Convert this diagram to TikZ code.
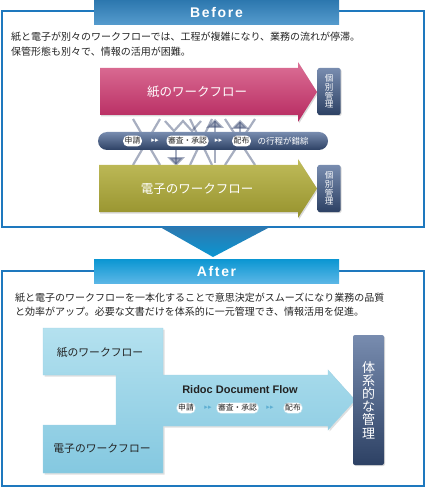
\documentclass[tikz,border=0pt]{standalone}
\usepackage{fontspec}
\setmainfont{Liberation Sans}
\newfontfamily\jp{Noto Sans CJK JP}
\newfontfamily\headfont[LetterSpace=12]{Liberation Sans}
\newfontfamily\symfont{DejaVu Sans}
\usetikzlibrary{arrows}
\usetikzlibrary{shadows}

\definecolor{frameblue}{RGB}{30,120,190}
\definecolor{tabtop}{RGB}{45,120,175}
\definecolor{tabbot}{RGB}{85,155,205}
\definecolor{aftertop}{RGB}{10,150,210}
\definecolor{afterbot}{RGB}{90,182,230}
\definecolor{pinktop}{RGB}{220,112,150}
\definecolor{pinkbot}{RGB}{182,40,95}
\definecolor{olivetop}{RGB}{192,188,90}
\definecolor{olivebot}{RGB}{150,146,45}
\definecolor{slatetop}{RGB}{120,140,175}
\definecolor{slatebot}{RGB}{45,65,100}
\definecolor{skytop}{RGB}{180,225,239}
\definecolor{skybot}{RGB}{132,200,224}
\definecolor{tangle}{RGB}{60,75,115}
\definecolor{inktext}{RGB}{35,35,35}
\definecolor{tipblue}{RGB}{95,175,210}

\begin{document}
\begin{tikzpicture}[x=1bp,y=-1bp,
    frame/.style={draw=frameblue,line width=1.2bp},
    tab/.style={minimum width=245bp,minimum height=24bp,inner sep=0,text=white,
      font=\headfont\bfseries\fontsize{14bp}{14bp}\selectfont},
    flowtext/.style={text=white,font=\jp\fontsize{12.5bp}{13bp}\selectfont},
    vbox/.style={top color=slatetop,bottom color=slatebot,rounded corners=2bp,inner sep=0,
      align=center,text=white,drop shadow={opacity=.3,shadow xshift=1bp,shadow yshift=-1bp}},
    pill/.style={fill=white,rounded corners=4.5bp,inner xsep=1.5bp,inner ysep=1.8bp,text=inktext,
      font=\jp\fontsize{7.8bp}{8bp}\selectfont},
    next/.style={font=\symfont\fontsize{7bp}{7bp}\selectfont,inner sep=0},
    tangle/.style={draw=tangle,opacity=.45,line width=2.2bp},
    para/.style={anchor=west,align=left,inner sep=0,text=inktext}]
    \path[use as bounding box] (0,0) rectangle (426,490);
    % Before panel.
    \draw[frame] (2,11) rectangle (424,227);
    \node[tab,top color=tabtop,bottom color=tabbot] (before) at (216.5,12.5) {Before};
    \node[para,font=\jp\fontsize{10bp}{15bp}\selectfont] (beforetext) at (11,44.5)
      {紙と電子が別々のワークフローでは、工程が複雑になり、業務の流れが停滞。\\保管形態も別々で、情報の活用が困難。};
    % Tangled steps.
    \foreach \a/\b in {133/160,160/133,225/255,255/225,190/212,212/190}
    \draw[tangle] (\a,119) -- (\b,165);
    \draw[tangle] (165,121) -- (174,131) -- (183,121) -- (192,131) -- (201,121);
    \draw[tangle,-triangle 90] (215,163) -- (215,119);
    \draw[tangle,-triangle 90] (176,150) -- (176,166);
    \draw[tangle,-triangle 90] (240,150) -- (240,120);
    % Paper flow.
    \path[top color=pinktop,bottom color=pinkbot,drop shadow={opacity=.3,shadow xshift=1bp,shadow yshift=-1.5bp}]
      (100,68) -- (298,68) -- (298,62) -- (317,92) -- (298,122) -- (298,115) -- (100,115) -- cycle;
    \node[flowtext] (paper) at (197,91.5) {紙のワークフロー};
    \node[vbox,minimum width=23bp,minimum height=47bp,font=\jp\fontsize{8.5bp}{8.6bp}\selectfont]
      (paperbox) at (329,91.5) {個\\別\\管\\理};
    % Steps bar.
    \path[top color=slatetop,bottom color=slatebot,rounded corners=9bp] (98,132) rectangle (328,150);
    \node[pill] (apply) at (132.5,141) {申請};
    \node[next,text=white] (next1) at (155,141) {▸▸};
    \node[pill] (review) at (187.5,141) {審査・承認};
    \node[next,text=white] (next2) at (218.5,141) {▸▸};
    \node[pill] (deliver) at (241.5,141) {配布};
    \node[text=white,font=\jp\fontsize{8.5bp}{9bp}\selectfont] (mess) at (283,141) {の行程が錯綜};
    % Digital flow.
    \path[top color=olivetop,bottom color=olivebot,drop shadow={opacity=.3,shadow xshift=1bp,shadow yshift=-1.5bp}]
      (99,165) -- (298,165) -- (298,159) -- (317,188.5) -- (298,218) -- (298,212) -- (99,212) -- cycle;
    \node[flowtext] (digital) at (197,188.5) {電子のワークフロー};
    \node[vbox,minimum width=23bp,minimum height=47bp,font=\jp\fontsize{8.5bp}{8.6bp}\selectfont]
      (digitalbox) at (329,188.5) {個\\別\\管\\理};
    % Down arrow.
    \path[top color=tabtop,bottom color=aftertop] (160,227) -- (270,227) -- (213,257) -- cycle;
    % After panel.
    \draw[frame] (2,271) rectangle (424,486);
    \node[tab,top color=aftertop,bottom color=afterbot] (after) at (216.5,271) {After};
    \node[para,font=\jp\fontsize{10bp}{14bp}\selectfont] (aftertext) at (15,305)
      {紙と電子のワークフローを一本化することで意思決定がスムーズになり業務の品質\\と効率がアップ。必要な文書だけを体系的に一元管理でき、情報活用を促進。};
    % Merged flow.
    \path[top color=skytop,bottom color=skybot,draw=skybot!80!white,
      drop shadow={opacity=.25,shadow xshift=1.5bp,shadow yshift=-1.5bp}]
      (43,328) -- (163,328) -- (163,375) -- (328,375) -- (328,370) -- (355,400) -- (328,430)
      -- (328,426) -- (163,426) -- (163,473) -- (43,473) -- (43,425) -- (116,425) -- (116,375)
      -- (43,375) -- cycle;
    \node[text=inktext,font=\jp\fontsize{10.8bp}{11bp}\selectfont] (paper2) at (100,352) {紙のワークフロー};
    \node[text=inktext,font=\jp\fontsize{10.8bp}{11bp}\selectfont] (digital2) at (102,449) {電子のワークフロー};
    \node[text=inktext,font=\bfseries\fontsize{11bp}{11bp}\selectfont] (ridoc) at (240,390) {Ridoc Document Flow};
    \node[pill,draw=skybot!60!white] (apply2) at (186,408) {申請};
    \node[next,text=tipblue] (next3) at (208,408) {▸▸};
    \node[pill,draw=skybot!60!white] (review2) at (237.5,408) {審査・承認};
    \node[next,text=tipblue] (next4) at (270,408) {▸▸};
    \node[pill,draw=skybot!60!white] (deliver2) at (293,408) {配布};
    \node[vbox,minimum width=31bp,minimum height=130bp,font=\jp\fontsize{13bp}{13.2bp}\selectfont]
      (system) at (368.5,400) {体\\系\\的\\な\\管\\理};
  \end{tikzpicture}
\end{document}
